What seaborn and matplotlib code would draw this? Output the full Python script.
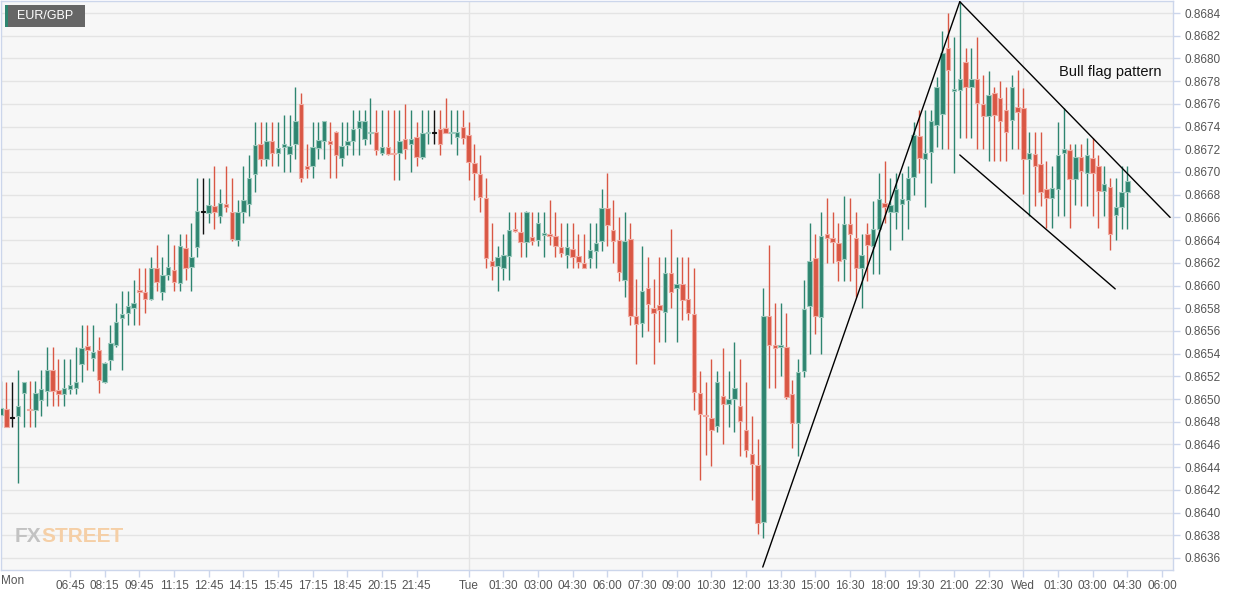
import numpy as np
import pandas as pd
import matplotlib
matplotlib.use("Agg")
import matplotlib.pyplot as plt
import seaborn as sns
from matplotlib.patches import Rectangle
from matplotlib.ticker import FormatStrFormatter
from matplotlib import font_manager as fm

# ---------------- data (EUR/GBP, 15-minute candles) ----------------
start_time = "2019-10-14 03:45"   # Monday

opens = [
    0.86486, 0.86491, 0.86484, 0.86485, 0.86505, 0.86491, 0.86490, 0.86499, 0.86507, 0.86526,
    0.86508, 0.86504, 0.86509, 0.86510, 0.86531, 0.86547, 0.86536, 0.86543, 0.86515, 0.86534,
    0.86548, 0.86571, 0.86576, 0.86580, 0.86596, 0.86594, 0.86588, 0.86615, 0.86594, 0.86609,
    0.86614, 0.86602, 0.86633, 0.86616, 0.86634, 0.86665, 0.86664, 0.86670, 0.86661, 0.86672,
    0.86665, 0.86640, 0.86665, 0.86672, 0.86698, 0.86725, 0.86711, 0.86727, 0.86717, 0.86722,
    0.86716, 0.86725, 0.86760, 0.86705, 0.86705, 0.86721, 0.86727, 0.86727, 0.86735, 0.86712,
    0.86724, 0.86727, 0.86739, 0.86729, 0.86734, 0.86735, 0.86717, 0.86722, 0.86717, 0.86717,
    0.86729, 0.86725, 0.86731, 0.86713, 0.86734, 0.86735, 0.86738, 0.86739, 0.86734, 0.86731,
    0.86740, 0.86733, 0.86708, 0.86698, 0.86677, 0.86622, 0.86617, 0.86615, 0.86626, 0.86650,
    0.86647, 0.86638, 0.86643, 0.86640, 0.86645, 0.86645, 0.86644, 0.86634, 0.86627, 0.86632,
    0.86626, 0.86620, 0.86624, 0.86630, 0.86639, 0.86668, 0.86649, 0.86640, 0.86605, 0.86641,
    0.86573, 0.86567, 0.86598, 0.86580, 0.86583, 0.86577, 0.86611, 0.86598, 0.86601, 0.86588,
    0.86575, 0.86505, 0.86486, 0.86483, 0.86476, 0.86503, 0.86496, 0.86500, 0.86494, 0.86473,
    0.86452, 0.86442, 0.86392, 0.86573, 0.86548, 0.86546, 0.86546, 0.86504, 0.86479, 0.86525,
    0.86582, 0.86624, 0.86572, 0.86645, 0.86642, 0.86637, 0.86623, 0.86654, 0.86642, 0.86615,
    0.86645, 0.86635, 0.86650, 0.86673, 0.86665, 0.86665, 0.86672, 0.86675, 0.86696, 0.86732,
    0.86711, 0.86718, 0.86741, 0.86751, 0.86809, 0.86771, 0.86772, 0.86797, 0.86775, 0.86782,
    0.86760, 0.86749, 0.86770, 0.86765, 0.86755, 0.86746, 0.86757, 0.86756, 0.86711, 0.86716,
    0.86707, 0.86685, 0.86677, 0.86685, 0.86717, 0.86719, 0.86694, 0.86713, 0.86699, 0.86712,
    0.86705, 0.86683, 0.86687, 0.86662, 0.86669, 0.86682,
]
highs = [
    0.86516, 0.86515, 0.86515, 0.86526, 0.86515, 0.86516, 0.86516, 0.86526, 0.86546, 0.86546,
    0.86535, 0.86535, 0.86535, 0.86546, 0.86565, 0.86565, 0.86565, 0.86555, 0.86533, 0.86565,
    0.86585, 0.86595, 0.86595, 0.86605, 0.86615, 0.86615, 0.86625, 0.86636, 0.86625, 0.86645,
    0.86636, 0.86645, 0.86645, 0.86655, 0.86695, 0.86695, 0.86695, 0.86705, 0.86685, 0.86705,
    0.86695, 0.86675, 0.86705, 0.86715, 0.86744, 0.86744, 0.86744, 0.86744, 0.86744, 0.86750,
    0.86750, 0.86775, 0.86770, 0.86725, 0.86744, 0.86744, 0.86745, 0.86744, 0.86736, 0.86744,
    0.86744, 0.86755, 0.86755, 0.86755, 0.86765, 0.86755, 0.86755, 0.86755, 0.86755, 0.86755,
    0.86760, 0.86755, 0.86744, 0.86755, 0.86755, 0.86755, 0.86755, 0.86765, 0.86755, 0.86755,
    0.86755, 0.86744, 0.86725, 0.86715, 0.86695, 0.86655, 0.86635, 0.86645, 0.86665, 0.86665,
    0.86665, 0.86666, 0.86665, 0.86665, 0.86665, 0.86675, 0.86665, 0.86655, 0.86655, 0.86655,
    0.86645, 0.86645, 0.86655, 0.86655, 0.86685, 0.86699, 0.86675, 0.86660, 0.86665, 0.86655,
    0.86606, 0.86635, 0.86625, 0.86606, 0.86625, 0.86625, 0.86650, 0.86625, 0.86625, 0.86625,
    0.86615, 0.86525, 0.86515, 0.86535, 0.86525, 0.86545, 0.86525, 0.86550, 0.86535, 0.86515,
    0.86485, 0.86465, 0.86598, 0.86636, 0.86585, 0.86585, 0.86576, 0.86517, 0.86535, 0.86605,
    0.86655, 0.86645, 0.86665, 0.86677, 0.86665, 0.86655, 0.86679, 0.86677, 0.86665, 0.86645,
    0.86655, 0.86674, 0.86699, 0.86710, 0.86695, 0.86699, 0.86699, 0.86705, 0.86744, 0.86755,
    0.86755, 0.86755, 0.86784, 0.86824, 0.86840, 0.86819, 0.86850, 0.86809, 0.86809, 0.86819,
    0.86785, 0.86789, 0.86775, 0.86780, 0.86775, 0.86785, 0.86790, 0.86774, 0.86735, 0.86735,
    0.86735, 0.86710, 0.86705, 0.86744, 0.86756, 0.86725, 0.86725, 0.86725, 0.86730, 0.86730,
    0.86715, 0.86705, 0.86695, 0.86695, 0.86705, 0.86705,
]
lows = [
    0.86475, 0.86475, 0.86475, 0.86426, 0.86475, 0.86475, 0.86475, 0.86485, 0.86494, 0.86494,
    0.86494, 0.86494, 0.86504, 0.86504, 0.86515, 0.86526, 0.86525, 0.86505, 0.86514, 0.86526,
    0.86546, 0.86526, 0.86565, 0.86565, 0.86565, 0.86576, 0.86587, 0.86595, 0.86587, 0.86605,
    0.86595, 0.86595, 0.86605, 0.86595, 0.86625, 0.86645, 0.86655, 0.86650, 0.86655, 0.86665,
    0.86639, 0.86635, 0.86655, 0.86661, 0.86682, 0.86705, 0.86705, 0.86705, 0.86705, 0.86700,
    0.86700, 0.86711, 0.86691, 0.86695, 0.86695, 0.86711, 0.86711, 0.86695, 0.86695, 0.86705,
    0.86715, 0.86715, 0.86715, 0.86724, 0.86725, 0.86715, 0.86715, 0.86715, 0.86693, 0.86693,
    0.86711, 0.86700, 0.86705, 0.86711, 0.86725, 0.86725, 0.86715, 0.86734, 0.86725, 0.86715,
    0.86725, 0.86693, 0.86675, 0.86665, 0.86615, 0.86605, 0.86595, 0.86605, 0.86605, 0.86647,
    0.86625, 0.86625, 0.86636, 0.86635, 0.86625, 0.86636, 0.86625, 0.86625, 0.86615, 0.86615,
    0.86615, 0.86615, 0.86615, 0.86615, 0.86630, 0.86635, 0.86620, 0.86604, 0.86590, 0.86565,
    0.86531, 0.86555, 0.86560, 0.86531, 0.86550, 0.86550, 0.86580, 0.86550, 0.86570, 0.86570,
    0.86490, 0.86429, 0.86451, 0.86441, 0.86471, 0.86460, 0.86475, 0.86471, 0.86450, 0.86449,
    0.86411, 0.86381, 0.86378, 0.86510, 0.86510, 0.86520, 0.86500, 0.86457, 0.86450, 0.86519,
    0.86540, 0.86557, 0.86540, 0.86620, 0.86620, 0.86604, 0.86604, 0.86604, 0.86590, 0.86580,
    0.86604, 0.86610, 0.86610, 0.86655, 0.86631, 0.86650, 0.86640, 0.86650, 0.86680, 0.86699,
    0.86669, 0.86690, 0.86722, 0.86720, 0.86720, 0.86699, 0.86730, 0.86730, 0.86730, 0.86720,
    0.86720, 0.86710, 0.86710, 0.86710, 0.86710, 0.86720, 0.86720, 0.86681, 0.86661, 0.86670,
    0.86670, 0.86651, 0.86651, 0.86661, 0.86661, 0.86651, 0.86671, 0.86670, 0.86670, 0.86661,
    0.86651, 0.86661, 0.86631, 0.86640, 0.86650, 0.86650,
]
closes = [
    0.86492, 0.86475, 0.86484, 0.86494, 0.86515, 0.86490, 0.86505, 0.86509, 0.86526, 0.86507,
    0.86504, 0.86510, 0.86512, 0.86515, 0.86545, 0.86543, 0.86541, 0.86517, 0.86532, 0.86549,
    0.86568, 0.86575, 0.86582, 0.86585, 0.86594, 0.86588, 0.86615, 0.86603, 0.86609, 0.86616,
    0.86603, 0.86635, 0.86615, 0.86625, 0.86666, 0.86665, 0.86671, 0.86665, 0.86673, 0.86669,
    0.86641, 0.86665, 0.86675, 0.86695, 0.86724, 0.86711, 0.86727, 0.86717, 0.86721, 0.86725,
    0.86723, 0.86745, 0.86695, 0.86703, 0.86722, 0.86728, 0.86745, 0.86725, 0.86715, 0.86723,
    0.86727, 0.86738, 0.86745, 0.86745, 0.86735, 0.86719, 0.86722, 0.86716, 0.86716, 0.86727,
    0.86720, 0.86729, 0.86713, 0.86734, 0.86735, 0.86735, 0.86725, 0.86734, 0.86735, 0.86735,
    0.86730, 0.86709, 0.86699, 0.86678, 0.86624, 0.86617, 0.86625, 0.86627, 0.86649, 0.86648,
    0.86638, 0.86665, 0.86639, 0.86655, 0.86646, 0.86644, 0.86635, 0.86629, 0.86634, 0.86625,
    0.86621, 0.86615, 0.86631, 0.86637, 0.86668, 0.86653, 0.86639, 0.86612, 0.86639, 0.86573,
    0.86566, 0.86595, 0.86584, 0.86576, 0.86578, 0.86611, 0.86594, 0.86601, 0.86587, 0.86576,
    0.86506, 0.86487, 0.86485, 0.86473, 0.86515, 0.86496, 0.86500, 0.86510, 0.86481, 0.86455,
    0.86443, 0.86391, 0.86573, 0.86548, 0.86545, 0.86548, 0.86502, 0.86479, 0.86524, 0.86579,
    0.86622, 0.86573, 0.86644, 0.86642, 0.86638, 0.86622, 0.86654, 0.86645, 0.86615, 0.86627,
    0.86636, 0.86650, 0.86676, 0.86669, 0.86671, 0.86685, 0.86676, 0.86695, 0.86733, 0.86712,
    0.86717, 0.86745, 0.86775, 0.86805, 0.86790, 0.86773, 0.86782, 0.86775, 0.86782, 0.86761,
    0.86749, 0.86768, 0.86750, 0.86745, 0.86735, 0.86775, 0.86753, 0.86711, 0.86717, 0.86705,
    0.86682, 0.86677, 0.86686, 0.86715, 0.86720, 0.86694, 0.86713, 0.86701, 0.86715, 0.86699,
    0.86683, 0.86689, 0.86645, 0.86669, 0.86682, 0.86692,
]

# trend lines of the bull-flag annotation (candle position, price)
pole_x = [131.9, 166.0]
pole_y = [0.86352, 0.86850]
flag_top_x = [166.0, 202.4]
flag_top_y = [0.86850, 0.86660]
flag_bot_x = [166.0, 192.9]
flag_bot_y = [0.86715, 0.86597]

pair_label = "EUR/GBP"
pattern_label = "Bull flag pattern"
watermark = ["FX", "STREET"]
day_names = {0: "Mon", 1: "Tue", 2: "Wed"}
y_ticks = np.round(np.arange(0.8636, 0.86841, 0.0002), 4)

# ---------------- build frame ----------------
n = len(opens)
times = pd.date_range(start_time, periods=n, freq="15min")
df = pd.DataFrame({"t": times, "pos": np.arange(n), "open": opens, "high": highs,
                   "low": lows, "close": closes})
t0 = times[0]
step = pd.Timedelta("15min")

tick_times = list(pd.date_range("2019-10-14 06:45", "2019-10-14 21:45", freq="90min")) + \
             [pd.Timestamp("2019-10-15 00:00")] + \
             list(pd.date_range("2019-10-15 01:30", "2019-10-15 22:30", freq="90min")) + \
             [pd.Timestamp("2019-10-16 00:00")] + \
             list(pd.date_range("2019-10-16 01:30", "2019-10-16 06:00", freq="90min"))
tick_pos = [(t - t0) / step for t in tick_times]
tick_lab = [day_names[t.dayofweek] if (t.hour == 0 and t.minute == 0) else t.strftime("%H:%M")
            for t in tick_times]
day_pos = [(t - t0) / step for t in tick_times if t.hour == 0 and t.minute == 0]

# ---------------- style ----------------
sns.set_theme(style="white")
plt.rcParams["font.family"] = ["Liberation Sans", "DejaVu Sans"]

W, H = 1244, 596
fig = plt.figure(figsize=(W / 100, H / 100), dpi=100, facecolor="white")
ax = fig.add_axes([1 / W, 26 / H, 1172 / W, 569 / H])
ax.set_facecolor("#f7f7f7")

GREEN = "#2e8570"
RED = "#d95744"
o = df["open"].to_numpy(); c = df["close"].to_numpy()
hi = df["high"].to_numpy(); lo = df["low"].to_numpy()
x = df["pos"].to_numpy()
up = c > o
dn = c < o
col = np.where(up, GREEN, np.where(dn, RED, "#111111"))
edge = np.where(up, "#9ccabd", np.where(dn, "#f1aca3", "#111111"))

# grid
for yt in y_ticks:
    ax.axhline(yt, color="#e4e4e4", lw=1, zorder=0)
for dp in day_pos:
    ax.axvline(dp, color="#e4e4e4", lw=1, zorder=0)

# wicks
ax.vlines(x, lo, hi, colors=col, linewidth=1.0, zorder=2)
# bodies
min_h = 0.000012
raw_h = np.abs(c - o)
body_h = np.maximum(raw_h, min_h)
body_b = np.minimum(o, c) - (body_h - raw_h) / 2
ax.bar(x, body_h, bottom=body_b, width=0.78, color=col, edgecolor=edge,
       linewidth=0.8, zorder=3)

# trend lines via seaborn
for lx, ly in [(pole_x, pole_y), (flag_top_x, flag_top_y), (flag_bot_x, flag_bot_y)]:
    sns.lineplot(x=lx, y=ly, ax=ax, color="black", linewidth=1.0, sort=False,
                 estimator=None, zorder=4)

ax.set_xlim(0.06, 202.9)
ax.set_ylim(0.863494, 0.868506)

ax.yaxis.tick_right()
ax.set_yticks(y_ticks)
ax.yaxis.set_major_formatter(FormatStrFormatter("%.4f"))
ax.set_xticks(tick_pos)
ax.set_xticklabels(tick_lab)
ax.tick_params(axis="y", right=True, left=False, length=5, width=1, color="#ccd6eb",
               labelsize=8.5, labelcolor="#555555", pad=3)
ax.tick_params(axis="x", bottom=True, length=5, width=1, color="#ccd6eb",
               labelsize=8.5, labelcolor="#555555", pad=2)
ax.set_xlabel(""); ax.set_ylabel("")
for s in ax.spines.values():
    s.set_color("#ccd6eb")
    s.set_linewidth(1)
    s.set_visible(True)

# "Mon" label at the left edge
fig.text(1 / W, 1 - 581 / H, day_names[0], ha="left", va="center", fontsize=8.5, color="#555555")

# pattern text
fig.text(1059 / W, 1 - 72 / H, pattern_label, ha="left", va="center", fontsize=10.5, color="#111111")

# pair badge
fig.add_artist(Rectangle((5 / W, 1 - 27 / H), 80 / W, 22 / H, transform=fig.transFigure,
                         facecolor="#666666", edgecolor="none", zorder=5))
fig.add_artist(Rectangle((5 / W, 1 - 27 / H), 2.5 / W, 22 / H, transform=fig.transFigure,
                         facecolor=GREEN, edgecolor="none", zorder=6))
fig.text(17 / W, 1 - 16 / H, pair_label, ha="left", va="center", fontsize=9, color="white", zorder=7)

# watermark: pick a narrow family if one exists, place STREET right after FX
names = {f.name for f in fm.fontManager.ttflist}
wm_family = "Liberation Sans Narrow" if "Liberation Sans Narrow" in names else "Liberation Sans"
wm_size = 19 if wm_family == "Liberation Sans Narrow" else 15
t_fx = fig.text(15 / W, 1 - 537 / H, watermark[0], ha="left", va="center", fontsize=wm_size,
                fontweight="bold", color="#c2c2c2", family=[wm_family, "DejaVu Sans"])
fig.canvas.draw()
fx_right = t_fx.get_window_extent().x1
fig.text(fx_right / W, 1 - 537 / H, watermark[1], ha="left", va="center", fontsize=wm_size,
         fontweight="bold", color="#f5cfa6", family=[wm_family, "DejaVu Sans"])

fig.savefig("out.png", dpi=100, facecolor="white")
